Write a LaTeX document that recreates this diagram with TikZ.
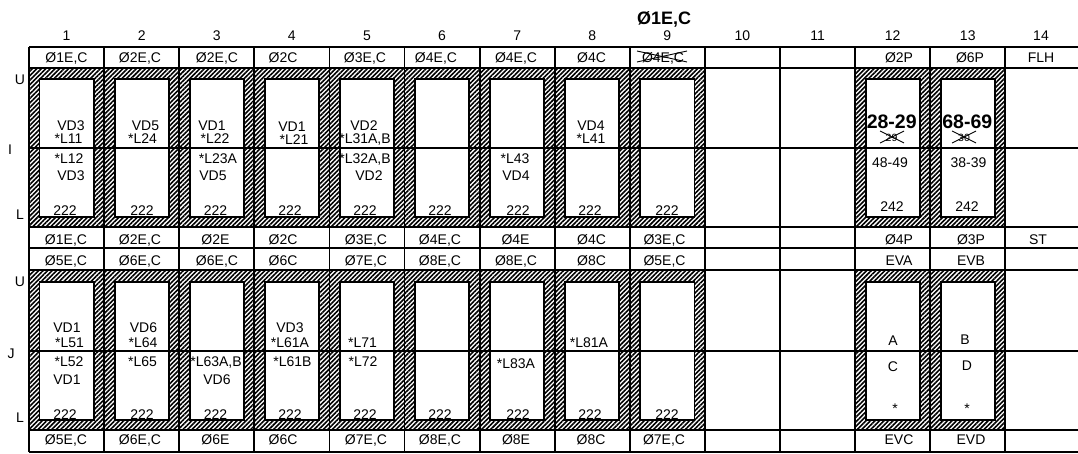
\documentclass[tikz,border=0pt]{standalone}
\usepackage{fontspec}
\setmainfont{Liberation Sans}
\usetikzlibrary{patterns.meta}
\begin{document}
\begin{tikzpicture}[x=1pt,y=-1pt,
  lbl/.style={anchor=base,inner sep=0pt,font=\fontsize{14}{16}\selectfont},
  big/.style={anchor=base,inner sep=0pt,font=\fontsize{19.5}{22}\selectfont\bfseries},
  small/.style={anchor=base,inner sep=0pt,font=\fontsize{10.5}{12}\selectfont},
  hatchbox/.style={line width=1.8pt,pattern={Lines[angle=45,distance=3.2pt,line width=1.6pt]}},
  innerbox/.style={line width=1.8pt,fill=white},
  gridline/.style={line width=1.8pt},
  strike/.style={line width=0.9pt}]
\useasboundingbox (0,0) rectangle (1078,454);
\def\xo{29}\def\w{75.1}
% hatched blocks
\foreach \i in {1,...,9,12,13}{
  \pgfmathsetmacro\xa{\xo+\w*(\i-1)}
  \pgfmathsetmacro\xb{\xo+\w*\i}
  \draw[hatchbox] (\xa,68) rectangle (\xb,227);
  \draw[innerbox] (\xa+10.5,79) rectangle (\xb-10.5,217);
  \draw[hatchbox] (\xa,270) rectangle (\xb,430);
  \draw[innerbox] (\xa+10.5,282) rectangle (\xb-10.5,420);
}
% grid
\foreach \y in {47,68,148,227,248,270,351,430,452}
  \draw[gridline] (\xo,\y) -- (1078,\y);
\foreach \i in {0,...,13}
  \draw[gridline] ({\xo+\w*\i},47) -- ({\xo+\w*\i},452);
% title
\node[anchor=base,inner sep=0pt,font=\fontsize{18}{20}\selectfont\bfseries] (title) at (664,25) {Ø1E,C};
% column numbers
\foreach \i in {1,...,13}
  \node[lbl] (n\i) at ({\xo+\w*(\i-0.5)},41) {\i};
\node[lbl] (n14) at (1041,41) {14};
% left labels
\node[lbl] (lu1) at (20,85) {U};
\node[lbl] (li) at (10,155) {I};
\node[lbl] (ll1) at (20,220) {L};
\node[lbl] (lu2) at (20,287) {U};
\node[lbl] (lj) at (11,358) {J};
\node[lbl] (ll2) at (20,422) {L};
% header row
\node[lbl] (h1) at (66.5,63) {Ø1E,C};
\node[lbl] (h2) at (140,63) {Ø2E,C};
\node[lbl] (h3) at (217,63) {Ø2E,C};
\node[lbl] (h4) at (283,63) {Ø2C};
\node[lbl] (h5) at (365,63) {Ø3E,C};
\node[lbl] (h6) at (436,63) {Ø4E,C};
\node[lbl] (h7) at (516,63) {Ø4E,C};
\node[lbl] (h8) at (591.5,63) {Ø4C};
\node[lbl] (h9) at (663,63) {Ø4E,C};
\node[lbl] (h12) at (899,63) {Ø2P};
\node[lbl] (h13) at (970,63) {Ø6P};
\node[lbl] (h14) at (1041,63) {FLH};
\coordinate (x9a) at (637,51); \coordinate (x9b) at (687,62);
\coordinate (x9c) at (637,62); \coordinate (x9d) at (687,51);
\draw[strike] (x9a) -- (x9b); \draw[strike] (x9c) -- (x9d);
% upper boxes
\node[lbl] (a1) at (71,131) {VD3};
\node[lbl] (a2) at (68.5,144) {*L11};
\node[lbl] (a3) at (69,164) {*L12};
\node[lbl] (a4) at (71,181) {VD3};
\node[lbl] (b1) at (145.5,131) {VD5};
\node[lbl] (b2) at (142.5,144) {*L24};
\node[lbl] (c1) at (212,131) {VD1};
\node[lbl] (c2) at (215,144) {*L22};
\node[lbl] (c3) at (218,164) {*L23A};
\node[lbl] (c4) at (213,181) {VD5};
\node[lbl] (d1) at (292,132) {VD1};
\node[lbl] (d2) at (294,145) {*L21};
\node[lbl] (e1) at (364,131) {VD2};
\node[lbl] (e2) at (365,144) {*L31A,B};
\node[lbl] (e3) at (365,164) {*L32A,B};
\node[lbl] (e4) at (369,181) {VD2};
\node[lbl] (g3) at (515,164) {*L43};
\node[lbl] (g4) at (516,181) {VD4};
\node[lbl] (k1) at (591,131) {VD4};
\node[lbl] (k2) at (591,144) {*L41};
\foreach \x [count=\k] in {65,142,215.5,290,365,440,518,590,667}
  \node[lbl] (u\k) at (\x,216) {222};
\node[big] (p1) at (891.7,129) {28-29};
\node[small] (p2) at (891.5,142) {29};
\coordinate (x29a) at (880,131); \coordinate (x29b) at (904,143);
\coordinate (x29c) at (880,143); \coordinate (x29d) at (904,131);
\draw[strike] (x29a) -- (x29b); \draw[strike] (x29c) -- (x29d);
\node[lbl] (p3) at (890,168) {48-49};
\node[lbl] (p4) at (892,212) {242};
\node[big] (q1) at (967.3,129) {68-69};
\node[small] (q2) at (964,142) {30};
\coordinate (x30a) at (952,131); \coordinate (x30b) at (976,143);
\coordinate (x30c) at (952,143); \coordinate (x30d) at (976,131);
\draw[strike] (x30a) -- (x30b); \draw[strike] (x30c) -- (x30d);
\node[lbl] (q3) at (968.5,168) {38-39};
\node[lbl] (q4) at (967,212) {242};
% middle rows
\node[lbl] (m1) at (66,244) {Ø1E,C};
\node[lbl] (m2) at (140,244) {Ø2E,C};
\node[lbl] (m3) at (215.5,244) {Ø2E};
\node[lbl] (m4) at (283,244) {Ø2C};
\node[lbl] (m5) at (366,244) {Ø3E,C};
\node[lbl] (m6) at (440,244) {Ø4E,C};
\node[lbl] (m7) at (515.5,244) {Ø4E};
\node[lbl] (m8) at (591.5,244) {Ø4C};
\node[lbl] (m9) at (664.5,244) {Ø3E,C};
\node[lbl] (m12) at (899,244) {Ø4P};
\node[lbl] (m13) at (971,244) {Ø3P};
\node[lbl] (m14) at (1038,244) {ST};
\node[lbl] (r1) at (66,265.5) {Ø5E,C};
\node[lbl] (r2) at (140,265.5) {Ø6E,C};
\node[lbl] (r3) at (217,265.5) {Ø6E,C};
\node[lbl] (r4) at (283,265.5) {Ø6C};
\node[lbl] (r5) at (366,265.5) {Ø7E,C};
\node[lbl] (r6) at (440,265.5) {Ø8E,C};
\node[lbl] (r7) at (516,265.5) {Ø8E,C};
\node[lbl] (r8) at (591.5,265.5) {Ø8C};
\node[lbl] (r9) at (664.5,265.5) {Ø5E,C};
\node[lbl] (r12) at (899,265.5) {EVA};
\node[lbl] (r13) at (971,265.5) {EVB};
% lower boxes
\node[lbl] (la1) at (67,332) {VD1};
\node[lbl] (la2) at (69.5,347) {*L51};
\node[lbl] (la3) at (69,366) {*L52};
\node[lbl] (la4) at (67,384) {VD1};
\node[lbl] (lb1) at (143.5,332) {VD6};
\node[lbl] (lb2) at (143,347) {*L64};
\node[lbl] (lb3) at (142.5,366) {*L65};
\node[lbl] (lc3) at (216,366) {*L63A,B};
\node[lbl] (lc4) at (217,384) {VD6};
\node[lbl] (ld1) at (290,332) {VD3};
\node[lbl] (ld2) at (290,347) {*L61A};
\node[lbl] (ld3) at (292.5,366) {*L61B};
\node[lbl] (le2) at (362.5,347) {*L71};
\node[lbl] (le3) at (363,366) {*L72};
\node[lbl] (lg3) at (516,368) {*L83A};
\node[lbl] (lk2) at (589,347) {*L81A};
\foreach \x [count=\k] in {65,142,215.5,290,365,440,518,590,667}
  \node[lbl] (v\k) at (\x,419) {222};
\node[lbl] (s1) at (893,345) {A};
\node[lbl] (s2) at (893,371) {C};
\node[lbl] (s3) at (895,413) {*};
\node[lbl] (t1) at (965,344) {B};
\node[lbl] (t2) at (967,370) {D};
\node[lbl] (t3) at (967,413) {*};
% bottom row
\node[lbl] (z1) at (66,444) {Ø5E,C};
\node[lbl] (z2) at (140,444) {Ø6E,C};
\node[lbl] (z3) at (215.5,444) {Ø6E};
\node[lbl] (z4) at (283,444) {Ø6C};
\node[lbl] (z5) at (366,444) {Ø7E,C};
\node[lbl] (z6) at (440,444) {Ø8E,C};
\node[lbl] (z7) at (516,444) {Ø8E};
\node[lbl] (z8) at (591,444) {Ø8C};
\node[lbl] (z9) at (664,444) {Ø7E,C};
\node[lbl] (z12) at (899,444) {EVC};
\node[lbl] (z13) at (971,444) {EVD};
\end{tikzpicture}
\end{document}
